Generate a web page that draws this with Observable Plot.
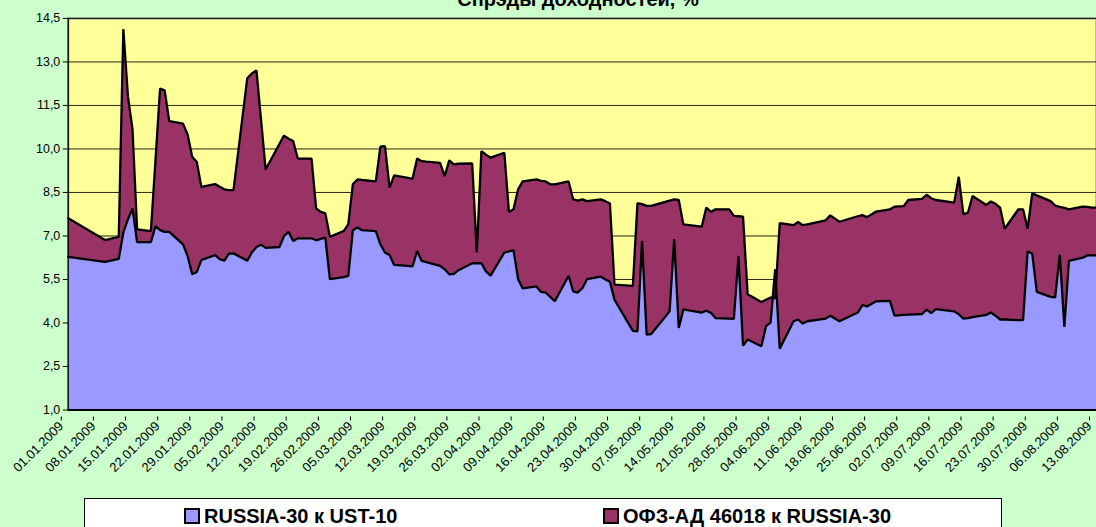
<!DOCTYPE html>
<html>
<head>
<meta charset="utf-8">
<script src="https://cdn.jsdelivr.net/npm/d3@7"></script>
<script src="https://cdn.jsdelivr.net/npm/@observablehq/plot@0.6"></script>
<style>
  html, body { margin: 0; padding: 0; background: #CCFFCC; overflow: hidden; }
  #wrap { position: relative; width: 1096px; height: 527px; overflow: hidden; background: #CCFFCC; font-family: "Liberation Sans", Arial, sans-serif; }
  #title { position: absolute; left: 0; width: 1156px; top: -11px; line-height: 20px; text-align: center; font-weight: bold; font-size: 20px; color: #000; white-space: nowrap; }
  #legend { position: absolute; left: 84px; top: 498px; width: 916px; height: 40px; background: #fff; border: 1px solid #000; }
  .li { position: absolute; top: 7px; height: 20px; line-height: 20px; font-weight: bold; font-size: 20px; white-space: nowrap; color: #000; }
  .sw { display: inline-block; width: 12px; height: 12px; border: 2px solid #000; vertical-align: -1px; margin-right: 4px; }
  #chart { position: absolute; left: 0; top: 0; }
</style>
</head>
<body>
<div id="wrap">
  <div id="chart"></div>
  <div id="title"></div>
  <div id="legend"></div>
</div>
<script>
// ---- data ----
const dates = [
  "2009-01-01","2009-01-09","2009-01-12","2009-01-13","2009-01-14","2009-01-15","2009-01-16","2009-01-19","2009-01-20","2009-01-21",
  "2009-01-22","2009-01-23","2009-01-26","2009-01-27","2009-01-28","2009-01-29","2009-01-30","2009-02-02","2009-02-03","2009-02-04",
  "2009-02-05","2009-02-06","2009-02-09","2009-02-10","2009-02-11","2009-02-12","2009-02-13","2009-02-16","2009-02-17","2009-02-18",
  "2009-02-19","2009-02-20","2009-02-23","2009-02-24","2009-02-25","2009-02-26","2009-02-27","2009-03-02","2009-03-03","2009-03-04",
  "2009-03-05","2009-03-06","2009-03-09","2009-03-10","2009-03-11","2009-03-12","2009-03-13","2009-03-16","2009-03-17","2009-03-18",
  "2009-03-19","2009-03-20","2009-03-23","2009-03-24","2009-03-25","2009-03-26","2009-03-27","2009-03-30","2009-03-31","2009-04-01",
  "2009-04-02","2009-04-03","2009-04-06","2009-04-07","2009-04-08","2009-04-09","2009-04-10","2009-04-13","2009-04-14","2009-04-15",
  "2009-04-16","2009-04-17","2009-04-20","2009-04-21","2009-04-22","2009-04-23","2009-04-24","2009-04-27","2009-04-28","2009-04-29",
  "2009-04-30","2009-05-04","2009-05-05","2009-05-06","2009-05-07","2009-05-08","2009-05-12","2009-05-13","2009-05-14","2009-05-15",
  "2009-05-19","2009-05-20","2009-05-21","2009-05-22","2009-05-25","2009-05-26","2009-05-27","2009-05-28","2009-05-29","2009-06-01",
  "2009-06-02","2009-06-03","2009-06-04","2009-06-05","2009-06-08","2009-06-09","2009-06-10","2009-06-11","2009-06-15","2009-06-16",
  "2009-06-18","2009-06-22","2009-06-23","2009-06-24","2009-06-26","2009-06-29","2009-06-30","2009-07-02","2009-07-03","2009-07-06",
  "2009-07-07","2009-07-08","2009-07-09","2009-07-13","2009-07-14","2009-07-15","2009-07-16","2009-07-17","2009-07-20","2009-07-21",
  "2009-07-22","2009-07-23","2009-07-24","2009-07-27","2009-07-28","2009-07-29","2009-07-30","2009-07-31","2009-08-03","2009-08-04",
  "2009-08-05","2009-08-06","2009-08-07","2009-08-10","2009-08-11","2009-08-12","2009-08-13"
];
// RUSSIA-30 к UST-10
const russiaUst = [
  6.28,6.11,6.21,7.12,7.57,7.95,6.79,6.79,7.34,7.20,
  7.14,7.14,6.71,6.31,5.68,5.76,6.17,6.34,6.20,6.15,
  6.39,6.40,6.15,6.43,6.62,6.70,6.59,6.62,7.00,7.14,
  6.83,6.92,6.92,6.85,6.90,6.94,5.51,5.58,5.62,7.20,
  7.29,7.20,7.17,6.71,6.43,6.34,6.00,5.97,5.95,6.48,
  6.14,6.10,5.97,5.85,5.68,5.69,5.82,6.06,6.06,6.06,
  5.78,5.63,6.43,6.47,6.51,5.51,5.19,5.26,5.07,5.05,
  4.90,4.75,5.63,5.09,5.05,5.20,5.51,5.60,5.50,5.42,
  4.80,3.73,3.71,6.83,3.60,3.62,4.40,6.89,3.83,4.47,
  4.36,4.42,4.35,4.17,4.15,4.14,6.30,3.22,3.43,3.20,
  3.89,4.01,5.85,3.11,4.06,4.12,3.98,4.06,4.15,4.25,
  4.06,4.36,4.62,4.57,4.75,4.76,4.25,4.28,4.29,4.31,
  4.46,4.34,4.48,4.40,4.30,4.15,4.17,4.20,4.28,4.36,
  4.25,4.12,4.12,4.10,4.10,6.47,6.39,5.07,4.90,4.88,
  6.36,3.86,6.14,6.25,6.33,6.33,6.33
];
// ОФЗ-АД 46018 к RUSSIA-30
const ofzRussia = [
  1.33,0.75,0.76,7.01,4.25,2.72,0.44,0.38,2.26,4.88,
  4.88,3.82,4.16,4.19,4.05,3.79,2.52,2.45,2.50,2.46,
  2.19,2.18,6.29,6.17,6.09,4.30,2.70,3.55,3.46,3.21,
  3.44,2.75,2.75,1.10,0.93,0.84,1.46,1.59,1.78,1.58,
  1.66,1.73,1.71,3.37,3.67,2.33,3.09,3.03,3.02,3.19,
  3.44,3.46,3.55,3.21,3.93,3.78,3.67,3.44,0.37,3.86,
  4.02,4.07,3.44,1.36,1.41,3.10,3.69,3.69,3.83,3.83,
  3.88,4.03,3.25,3.17,3.17,3.06,2.69,2.66,2.70,2.70,
  0.52,1.55,4.42,1.27,4.44,4.42,3.82,1.37,4.41,2.93,
  2.96,3.56,3.48,3.75,3.77,3.55,1.38,4.45,1.56,1.52,
  0.91,0.87,-1.00,4.33,3.31,3.36,3.39,3.34,3.39,3.46,
  3.43,3.32,3.10,3.08,3.09,3.16,3.76,3.75,3.95,3.97,
  3.96,3.96,3.76,3.75,4.74,3.60,3.63,4.18,3.79,3.83,
  3.86,3.86,3.13,3.82,3.82,0.78,2.08,3.33,3.30,3.17,
  1.64,4.11,1.78,1.76,1.67,1.65,1.65
];
const seriesNames = ["RUSSIA-30 к UST-10", "ОФЗ-АД 46018 к RUSSIA-30"];
const seriesColors = ["#9999FF", "#993366"];
const yTicks = [1.0, 2.5, 4.0, 5.5, 7.0, 8.5, 10.0, 11.5, 13.0, 14.5];
const xTickLabels = [
  "01.01.2009","08.01.2009","15.01.2009","22.01.2009","29.01.2009","05.02.2009","12.02.2009","19.02.2009","26.02.2009",
  "05.03.2009","12.03.2009","19.03.2009","26.03.2009","02.04.2009","09.04.2009","16.04.2009","23.04.2009","30.04.2009",
  "07.05.2009","14.05.2009","21.05.2009","28.05.2009","04.06.2009","11.06.2009","18.06.2009","25.06.2009","02.07.2009",
  "09.07.2009","16.07.2009","23.07.2009","30.07.2009","06.08.2009","13.08.2009"
];
const titleText = "Спрэды доходностей, %";

// ---- build ----
const parseISO = d3.utcParse("%Y-%m-%d");
const parseRu = d3.utcParse("%d.%m.%Y");
const fmtRu = d3.utcFormat("%d.%m.%Y");
const rows = dates.map((d, i) => ({
  date: parseISO(d),
  lower: russiaUst[i],
  total: russiaUst[i] + ofzRussia[i]
}));
const xTicks = xTickLabels.map(parseRu);
const yMin = yTicks[0], yMax = yTicks[yTicks.length - 1];

const chart = Plot.plot({
  width: 1100,
  height: 527,
  marginLeft: 68,
  marginRight: 0,
  marginTop: 18,
  marginBottom: 116,
  style: { background: "transparent", fontFamily: "'Liberation Sans', Arial, sans-serif", color: "#000", overflow: "visible" },
  x: { type: "utc", domain: [xTicks[0], xTicks[xTicks.length - 1]] },
  y: { domain: [yMin, yMax] },
  marks: [
    Plot.frame({ fill: "#FFFF99", stroke: "#808080", strokeWidth: 2 }),
    Plot.gridY(yTicks, { stroke: "#000", strokeOpacity: 0.85, strokeWidth: 1 }),
    Plot.areaY(rows, { x: "date", y1: () => yMin, y2: "lower", fill: seriesColors[0] }),
    Plot.areaY(rows, { x: "date", y1: "lower", y2: "total", fill: seriesColors[1] }),
    Plot.lineY(rows, { x: "date", y: "lower", stroke: "#000", strokeWidth: 2.3, strokeLinejoin: "miter" }),
    Plot.lineY(rows, { x: "date", y: "total", stroke: "#000", strokeWidth: 2.3, strokeLinejoin: "miter" }),
    Plot.ruleX([xTicks[0]], { stroke: "#000", strokeWidth: 1.2 }),
    Plot.ruleY([yMin], { stroke: "#000", strokeWidth: 2 }),
    Plot.axisY(yTicks, {
      tickFormat: d => d.toFixed(1).replace(".", ","),
      tickSize: 5, tickPadding: 3, fontSize: 12.5, label: null, stroke: "#000"
    }),
    Plot.axisX(xTicks, {
      tickFormat: fmtRu, tickRotate: -45, tickSize: 4, tickPadding: 3,
      fontSize: 13, label: null, stroke: "#000", dx: -7, dy: 7
    })
  ]
});
document.getElementById("chart").appendChild(chart);

document.getElementById("title").textContent = titleText;

const legend = document.getElementById("legend");
const legendX = [99, 518];
seriesNames.forEach((name, i) => {
  const item = document.createElement("div");
  item.className = "li";
  item.style.left = legendX[i] + "px";
  const sw = document.createElement("span");
  sw.className = "sw";
  sw.style.background = seriesColors[i];
  item.appendChild(sw);
  item.appendChild(document.createTextNode(name));
  legend.appendChild(item);
});
</script>
</body>
</html>
